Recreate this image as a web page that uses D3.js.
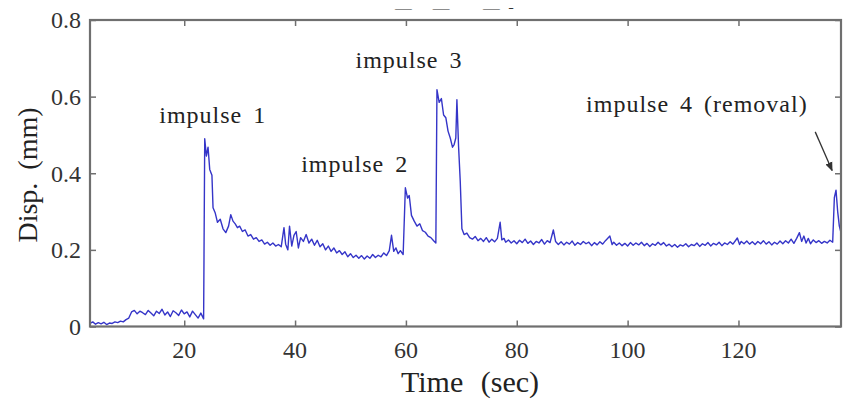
<!DOCTYPE html>
<html lang="en">
<head>
<meta charset="UTF-8">
<title>Disp. vs Time</title>
<script src="https://d3js.org/d3.v7.min.js"></script>
<style>
  html, body { margin: 0; background: #fff; }
  svg { display: block; }
  svg text { font-family: "Liberation Serif", "Times New Roman", serif; }
  .tick-label { font-size: 24px; fill: #333; }
  .annot { font-size: 24px; fill: #222; letter-spacing: 1px; word-spacing: 4px; }
  .axis-title { font-size: 28px; fill: #222; word-spacing: 6px; }
</style>
</head>
<body>
<svg id="chart" width="843" height="402"></svg>
<script>
const xTicks = [20, 40, 60, 80, 100, 120];
const yTicks = [0, 0.2, 0.4, 0.6, 0.8];

// [time (sec), displacement (mm)]
const before = [
  [3,0.008],[3.5,0.012],[4,0.006],[4.5,0.010],[5,0.007],[5.5,0.011],[6,0.005],[6.5,0.009],[7,0.008],[7.5,0.012],
  [8,0.010],[8.5,0.014],[9,0.012],[9.5,0.018],[10,0.022],[10.5,0.038],[11,0.042],[11.5,0.033],[12,0.040],[12.5,0.036],
  [13,0.031],[13.5,0.042],[14,0.035],[14.5,0.028],[15,0.040],[15.5,0.034],[16,0.045],[16.5,0.030],[17,0.038],[17.5,0.026],
  [18,0.041],[18.5,0.036],[19,0.029],[19.5,0.043],[20,0.033],[20.5,0.038],[21,0.025],[21.5,0.040],[22,0.031],[22.5,0.022],
  [23,0.035],[23.5,0.020]
];
const impulse1 = [
  [23.7,0.490],[24,0.445],[24.3,0.468],[24.6,0.410],[25,0.395],[25.2,0.310],[25.6,0.296],[26,0.272],[26.5,0.280],[27,0.255],
  [27.5,0.245],[28,0.262],[28.4,0.292],[28.8,0.275],[29.2,0.268],[29.6,0.258],[30,0.262],[30.5,0.248],[31,0.252],[31.5,0.236],
  [32,0.240],[32.5,0.228],[33,0.232],[33.5,0.222],[34,0.226],[34.5,0.215],[35,0.220],[35.5,0.212],[36,0.218],[36.5,0.210],
  [37,0.214],[37.5,0.208],[38,0.258],[38.3,0.215],[38.7,0.200],[39,0.262],[39.4,0.210],[39.8,0.238],[40.2,0.248],[40.6,0.205],
  [41,0.232],[41.5,0.222],[42,0.240],[42.5,0.218],[43,0.228],[43.5,0.212],[44,0.225],[44.5,0.208],[45,0.216],[45.5,0.200],
  [46,0.210],[46.5,0.196],[47,0.205],[47.5,0.192],[48,0.198],[48.5,0.188],[49,0.195],[49.5,0.182],[50,0.190],[50.5,0.180],
  [51,0.186],[51.5,0.178],[52,0.185],[52.5,0.176],[53,0.184],[53.5,0.178],[54,0.188],[54.5,0.180],[55,0.186],[55.5,0.182],
  [56,0.192],[56.5,0.185],[57,0.198],[57.4,0.238],[57.8,0.196],[58.2,0.205],[58.6,0.190],[59,0.198],[59.5,0.188]
];
const impulse2 = [
  [59.9,0.362],[60.3,0.335],[60.6,0.342],[61,0.290],[61.5,0.275],[62,0.262],[62.5,0.268],[63,0.250],[63.5,0.246],[64,0.236],
  [64.5,0.232],[65,0.224],[65.4,0.218]
];
const impulse3 = [
  [65.6,0.618],[66,0.585],[66.4,0.595],[66.8,0.552],[67.2,0.545],[67.6,0.510],[68,0.492],[68.4,0.468],[68.7,0.475],[69,0.492],
  [69.2,0.592],[69.5,0.470],[69.8,0.380],[70.1,0.255],[70.5,0.240],[71,0.244],[71.5,0.232],[72,0.228],[72.5,0.235],[73,0.224],
  [73.5,0.230],[74,0.222],[74.5,0.232],[75,0.220],[75.5,0.228],[76,0.221],[76.5,0.230],[77,0.272],[77.3,0.226],[77.7,0.230],
  [78,0.220],[78.5,0.226],[79,0.218],[79.5,0.224],[80,0.216],[80.5,0.225],[81,0.219],[81.5,0.228],[82,0.217],[82.5,0.223],
  [83,0.214],[83.5,0.222],[84,0.218],[84.5,0.227],[85,0.215],[85.5,0.224],[86,0.219],[86.6,0.252],[87,0.222],[87.5,0.214],
  [88,0.221],[88.5,0.213],[89,0.220],[89.5,0.215],[90,0.223],[90.5,0.212],[91,0.219],[91.5,0.214],[92,0.222],[92.5,0.216],
  [93,0.220],[93.5,0.211],[94,0.219],[94.5,0.213],[95,0.221],[95.5,0.215],[96,0.224],[96.8,0.236],[97.2,0.214],[97.5,0.220],
  [98,0.212],[98.5,0.218],[99,0.211],[99.5,0.217],[100,0.210],[100.5,0.219],[101,0.212],[101.5,0.218],[102,0.213],[102.5,0.220],
  [103,0.211],[103.5,0.217],[104,0.209],[104.5,0.216],[105,0.212],[105.5,0.220],[106,0.213],[106.5,0.219],[107,0.210],[107.5,0.215],
  [108,0.208],[108.5,0.214],[109,0.207],[109.5,0.213],[110,0.210],[110.5,0.216],[111,0.208],[111.5,0.214],[112,0.211],[112.5,0.218],
  [113,0.209],[113.5,0.216],[114,0.212],[114.5,0.219],[115,0.210],[115.5,0.217],[116,0.213],[116.5,0.220],[117,0.211],[117.5,0.218],
  [118,0.214],[118.5,0.221],[119,0.215],[119.8,0.231],[120.2,0.214],[120.5,0.222],[121,0.216],[121.5,0.223],[122,0.215],[122.5,0.221],
  [123,0.214],[123.5,0.222],[124,0.216],[124.5,0.224],[125,0.215],[125.5,0.221],[126,0.213],[126.5,0.220],[127,0.215],[127.5,0.223],
  [128,0.216],[128.5,0.224],[129,0.218],[129.5,0.228],[130,0.217],[130.5,0.230],[131,0.245],[131.4,0.222],[131.8,0.236],[132.2,0.218],
  [132.6,0.230],[133,0.216],[133.5,0.226],[134,0.219],[134.5,0.224],[135,0.217],[135.5,0.222],[136,0.218],[136.5,0.225],[137,0.220]
];
const impulse4 = [
  [137.3,0.336],[137.6,0.356],[137.9,0.300],[138.2,0.262],[138.5,0.245]
];

const labels = [
  { text: "impulse 1", t: 15.5, v: 0.532 },
  { text: "impulse 2", t: 41.1, v: 0.404 },
  { text: "impulse 3", t: 50.9, v: 0.676 },
  { text: "impulse 4 (removal)", t: 92.5, v: 0.561 }
];
// arrow pointing at impulse 4: [t, v] start and end
const arrow = [[133.85, 0.508], [136.9, 0.407]];

const series = [...before, ...impulse1, ...impulse2, ...impulse3, ...impulse4];

const svg = d3.select("#chart");
const plotLeft = 90, plotRight = 841, plotTop = 20, plotBottom = 326.5;

const x = d3.scaleLinear().domain([3, 138.5]).range([plotLeft, plotRight]);
const y = d3.scaleLinear().domain([0, 0.8]).range([plotBottom, plotTop]);

const axisColor = "#6f6f6f";
const tickLen = 6;

// inward ticks on all four sides
svg.append("g").attr("transform", `translate(0,${plotBottom})`)
  .call(d3.axisTop(x).tickValues(xTicks).tickSize(tickLen).tickFormat(""));
svg.append("g").attr("transform", `translate(0,${plotTop})`)
  .call(d3.axisBottom(x).tickValues(xTicks).tickSize(tickLen).tickFormat(""));
svg.append("g").attr("transform", `translate(${plotLeft},0)`)
  .call(d3.axisRight(y).tickValues(yTicks).tickSize(tickLen).tickFormat(""));
svg.append("g").attr("transform", `translate(${plotRight},0)`)
  .call(d3.axisLeft(y).tickValues(yTicks).tickSize(tickLen).tickFormat(""));

svg.selectAll(".domain").remove();
svg.selectAll(".tick line").attr("stroke", axisColor).attr("stroke-width", 1.5);

// trace
const line = d3.line().x(d => x(d[0])).y(d => y(d[1]));
svg.append("path")
  .datum(series)
  .attr("fill", "none")
  .attr("stroke", "#3535c8")
  .attr("stroke-width", 1.4)
  .attr("stroke-linejoin", "round")
  .attr("d", line);

// frame
svg.append("rect")
  .attr("x", plotLeft).attr("y", plotTop)
  .attr("width", plotRight - plotLeft).attr("height", plotBottom - plotTop)
  .attr("fill", "none")
  .attr("stroke", axisColor)
  .attr("stroke-width", 2.2);

// tick labels
svg.selectAll(".xlab").data(xTicks).enter().append("text")
  .attr("class", "tick-label")
  .attr("x", d => x(d))
  .attr("y", 358)
  .attr("text-anchor", "middle")
  .text(d => d);

svg.selectAll(".ylab").data(yTicks).enter().append("text")
  .attr("class", "tick-label")
  .attr("x", 81)
  .attr("y", d => y(d))
  .attr("dy", "0.35em")
  .attr("text-anchor", "end")
  .text(d => d3.format("")(d));

// axis titles
svg.append("text")
  .attr("class", "axis-title")
  .attr("x", 470).attr("y", 392)
  .attr("text-anchor", "middle")
  .style("font-size", "30px")
  .style("word-spacing", "10px")
  .text("Time (sec)");

svg.append("text")
  .attr("class", "axis-title")
  .attr("transform", "translate(37,175) rotate(-90)")
  .attr("text-anchor", "middle")
  .text("Disp. (mm)");

// cut-off remains of a title above the frame
svg.append("text")
  .attr("transform", "translate(395,12) scale(1.4,1)")
  .style("font-size", "12px")
  .style("fill", "#333")
  .style("white-space", "pre")
  .text("\u2014     \u2014        \u2014  -");

// annotations
svg.selectAll(".annot").data(labels).enter().append("text")
  .attr("class", "annot")
  .attr("x", d => x(d.t))
  .attr("y", d => y(d.v))
  .text(d => d.text);

svg.append("defs").append("marker")
  .attr("id", "head")
  .attr("viewBox", "0 0 10 10")
  .attr("refX", 9).attr("refY", 5)
  .attr("markerWidth", 7).attr("markerHeight", 7)
  .attr("orient", "auto")
  .append("path")
  .attr("d", "M0,1 L10,5 L0,9 Z")
  .attr("fill", "#333");

svg.append("line")
  .attr("x1", x(arrow[0][0])).attr("y1", y(arrow[0][1]))
  .attr("x2", x(arrow[1][0])).attr("y2", y(arrow[1][1]))
  .attr("stroke", "#333")
  .attr("stroke-width", 1.3)
  .attr("marker-end", "url(#head)");
</script>
</body>
</html>
